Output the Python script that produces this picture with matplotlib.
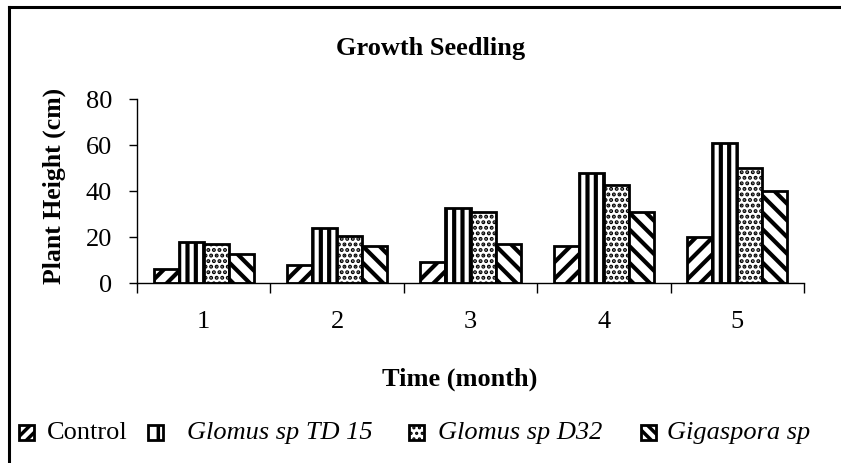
import numpy as np
import matplotlib
matplotlib.use("Agg")
import matplotlib.pyplot as plt
from matplotlib.patches import Rectangle
from matplotlib.lines import Line2D

# data
months = ["1", "2", "3", "4", "5"]
control = [6, 8, 9, 16, 20]
glomus_td15 = [18, 24, 32.5, 48, 61]
glomus_d32 = [17, 20.5, 31, 42.5, 50]
gigaspora = [12.5, 16, 17, 31, 40]

series = [control, glomus_td15, glomus_d32, gigaspora]
labels = ["Control", "Glomus sp TD 15", "Glomus sp D32", "Gigaspora sp"]
hatches = ["//", "||", "...", "\\\\"]
hatch_lw = [3.0, 3.0, 2.0, 3.0]
legend_hatches = ["///", "|", "...", "\\\\\\"]

plt.rcParams["font.family"] = ["Liberation Serif", "DejaVu Serif"]
plt.rcParams["hatch.linewidth"] = 3.0

W, H = 841, 463
fig = plt.figure(figsize=(W / 100, H / 100), dpi=100)
ax = fig.add_axes([137 / W, 1 - 283 / H, (804 - 137) / W, (283 - 99) / H])

x = np.arange(len(months))
bw = 0.1875
for i, (vals, hatch, hlw) in enumerate(zip(series, hatches, hatch_lw)):
    bars = ax.bar(x + (i - 1.5) * bw, vals, bw, color="white", edgecolor="black",
                  linewidth=2, hatch=hatch)
    for b in bars:
        b.set_hatch_linewidth(hlw)

ax.set_xlim(-0.5, len(months) - 0.5)
ax.set_ylim(0, 80)
ax.set_yticks([0, 20, 40, 60, 80])
ax.set_xticks(x)
ax.set_xticklabels(months)
ax.set_xticks(np.arange(len(months) + 1) - 0.5, minor=True)
ax.tick_params(axis="x", which="major", length=0, pad=20, labelsize=19)
ax.tick_params(axis="x", which="minor", length=7, direction="out", width=1)
ax.tick_params(axis="y", length=6, direction="out", width=1, pad=12, labelsize=19)
for s in ["top", "right"]:
    ax.spines[s].set_visible(False)
for s in ["left", "bottom"]:
    ax.spines[s].set_linewidth(1)

fig.text(431 / W, 1 - 49 / H, "Growth Seedling", ha="center", va="center",
         fontsize=19, fontweight="bold")
fig.text(460 / W, 1 - 379 / H, "Time (month)", ha="center", va="center",
         fontsize=19, fontweight="bold")
fig.text(54 / W, 1 - 186 / H, "Plant Height (cm)", ha="center", va="center",
         fontsize=18.5, fontweight="bold", rotation=90)

# legend along the bottom, laid out by hand
marker_x = [19, 148, 409, 641]
text_x = [47, 187, 438, 667]
for i, (mx, tx, lab, hatch) in enumerate(zip(marker_x, text_x, labels, legend_hatches)):
    r = Rectangle((mx / W, 1 - 440 / H), 15 / W, 15 / H, transform=fig.transFigure,
                  facecolor="white", edgecolor="black", linewidth=2, hatch=hatch)
    r.set_hatch_linewidth(2.5 if i != 2 else 1.5)
    fig.add_artist(r)
    fig.text(tx / W, 1 - 433 / H, lab, ha="left", va="center", fontsize=19,
             fontstyle="normal" if i == 0 else "italic")

# outer frame (left and top edges visible)
fig.add_artist(Line2D([9 / W, 9 / W], [0, 1 - 7 / H], color="black", lw=2.2,
                      transform=fig.transFigure))
fig.add_artist(Line2D([9 / W, 1], [1 - 7 / H, 1 - 7 / H], color="black", lw=2.2,
                      transform=fig.transFigure))

fig.savefig("out.png", dpi=100)
